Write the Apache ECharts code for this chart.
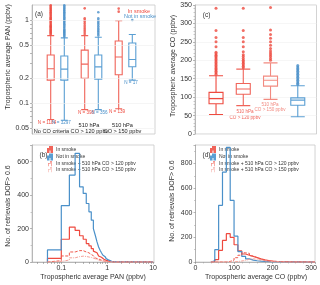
<!DOCTYPE html>
<html><head><meta charset="utf-8">
<script src="https://cdn.jsdelivr.net/npm/echarts@6/dist/echarts.min.js"></script>
<style>html,body{margin:0;padding:0;background:#fff}#c{width:320px;height:285px}</style>
</head><body><div id="c"></div>
<script>
// ---------------- data ----------------
const panGroups = ['No CO criteria', '510 hPa CO > 120 ppbv', '510 hPa CO > 150 ppbv'];
// [low whisker, Q1, median, Q3, high whisker] in ppbv
const panSmokeBoxes = [[0.064, 0.19, 0.26, 0.38, 0.65], [0.084, 0.20, 0.295, 0.435, 0.65], [0.086, 0.22, 0.36, 0.56, 0.98]];
const panClearBoxes = [[0.0625, 0.19, 0.257, 0.37, 0.61], [0.084, 0.195, 0.274, 0.38, 0.62], [0.19, 0.275, 0.335, 0.53, 0.67]];
const panSmokeOutliers = [
  [0.67, 0.69, 0.71, 0.73, 0.75, 0.77, 0.79, 0.81, 0.83, 0.85, 0.87, 0.9, 0.93, 0.96, 0.99, 1.02, 1.05, 1.08, 1.12, 1.16, 1.2, 1.24, 1.28, 1.32, 1.36, 1.4, 1.45, 1.5],
  [0.68, 0.72, 0.76, 0.8, 0.85, 0.9, 0.95, 1.0, 1.05, 1.38],
  [1.26, 1.37]
];
const panClearOutliers = [
  [0.63, 0.65, 0.67, 0.69, 0.71, 0.73, 0.75, 0.77, 0.8, 0.83, 0.86, 0.89, 0.92, 0.95, 0.98, 1.01, 1.04, 1.08, 1.12, 1.16, 1.2, 1.24, 1.28, 1.32, 1.36, 1.4, 1.45, 1.5],
  [0.65, 0.68, 0.71, 0.74, 0.77, 0.8, 0.84, 0.88, 0.92, 0.96, 1.0, 1.05, 1.24],
  [1.0]
];
const panSmokeN = ['N = 1184', 'N = 398', 'N = 139'];
const panClearN = ['N = 3297', 'N = 356', 'N = 17'];
const panTickValues = [0.05, 0.1, 0.2, 0.5, 1];
const panMinorTicks = [0.05, 0.06, 0.07, 0.08, 0.09, 0.1, 0.2, 0.3, 0.4, 0.5, 0.6, 0.7, 0.8, 0.9, 1];

const coCats = ['In smoke', '510 hPa CO > 120 ppbv', '510 hPa CO > 150 ppbv', 'Not in smoke'];
const coBoxes = [[53, 82, 96, 113, 158], [77, 108, 122, 137, 176], [94, 130, 146, 157, 193], [47, 78, 92, 98, 131]];
const coOutliers = [
  [162, 166, 170, 174, 178, 182, 186, 190, 194, 198, 202, 206, 210, 214, 218, 222, 237, 250, 262, 281, 341],
  [180, 184, 188, 192, 196, 200, 205, 210, 215, 223, 237, 250, 262, 281, 341],
  [200, 205, 210, 215, 220, 225, 232, 241, 250, 260, 270, 282, 343],
  [134, 138, 142, 146, 150, 154, 158, 162, 166, 170, 174, 178, 182, 186]
];

const histNames = ['In smoke', 'Not in smoke', 'In smoke + 510 hPa CO > 120 ppbv', 'In smoke + 510 hPa CO > 150 ppbv'];
const panBinEdges = [0.05, 0.10, 0.15, 0.20, 0.25, 0.30, 0.35, 0.40, 0.45, 0.50, 0.55, 0.60, 0.65, 0.70, 0.75, 0.80, 0.85, 0.90, 0.95, 1.00, 1.05, 1.10, 1.15, 1.20, 1.25, 1.30, 1.35, 1.40, 1.45, 1.50];
const panHistSmoke = [22, 136, 209, 189, 157, 136, 110, 96, 80, 65, 55, 45, 36, 28, 22, 17, 13, 10, 8, 6, 5, 4, 3, 2, 2, 1, 1, 0, 0];
const panHistClear = [72, 337, 520, 650, 450, 410, 350, 300, 250, 200, 160, 120, 90, 70, 55, 42, 32, 25, 20, 15, 11, 8, 6, 4, 3, 2, 2, 1, 0];
const panHistCO120 = [8, 36, 60, 68, 68, 60, 55, 45, 38, 30, 24, 18, 14, 11, 8, 6, 5, 4, 3, 2, 2, 1, 1, 0, 0, 0, 0, 0, 0];
const panHistCO150 = [3, 12, 25, 32, 35, 33, 30, 27, 23, 19, 15, 12, 9, 7, 5, 4, 3, 2, 2, 1, 1, 1, 0, 0, 0, 0, 0, 0, 0];
const panHistEnd = 10;
const panXTickLabels = [0.1, 1, 10];
const panXMinorTicks = [0.03, 0.04, 0.05, 0.06, 0.07, 0.08, 0.09, 0.1, 0.2, 0.3, 0.4, 0.5, 0.6, 0.7, 0.8, 0.9, 1, 2, 3, 4, 5, 6, 7, 8, 9, 10];

const coBinEdges = [40, 50, 60, 70, 80, 90, 100, 110, 120, 130, 140, 150, 160, 170, 180, 190, 200, 210, 220, 230, 240, 250, 260, 270, 280, 290, 300];
const coHistSmoke = [3, 20, 95, 175, 230, 200, 140, 90, 65, 55, 45, 35, 25, 17, 11, 7, 5, 4, 3, 2, 2, 1, 1, 1, 0, 0];
const coHistClear = [10, 100, 460, 730, 930, 500, 210, 85, 45, 25, 15, 10, 7, 5, 3, 1, 0, 0, 0, 0, 0, 0, 0, 0, 0, 0];
const coHistCO120 = [0, 0, 0, 0, 5, 15, 35, 55, 75, 70, 50, 35, 22, 14, 9, 6, 3, 2, 1, 1, 0, 0, 0, 0, 0, 0];
const coHistCO150 = [0, 0, 0, 0, 0, 0, 4, 8, 14, 22, 26, 22, 16, 10, 7, 4, 3, 2, 1, 0, 0, 0, 0, 0, 0, 0];
const coHistEnd = 310;

// ---------------- styling ----------------
const FONT = 'Liberation Sans, Arial, sans-serif';
const RED = '#ee4a3f', RED_BOX = '#f0645a', RED2 = '#ef5a4e', PINK = '#f3a199';
const BLUE = '#4a90c9', BLUE_BOX = '#5b9fd3';
const L = Math.log10;
const panLo = -1.3685, panHi = 0.18;
const fmtLog = v => String(Number(Math.pow(10, v).toPrecision(2)));

function stepData(edges, counts, endX, tx) {
  const t = tx || (x => x);
  const pts = [[t(edges[0]), 0], [t(edges[0]), counts[0]]];
  for (let i = 1; i < counts.length; i++) pts.push([t(edges[i]), counts[i]]);
  pts.push([t(edges[counts.length]), 0]);
  pts.push([t(endX), 0]);
  return pts;
}

const hidden = {show: false};
const axisLabelStyle = {fontSize: 7, color: '#333', fontFamily: FONT, margin: 3};
const tickStyle = {length: 2, lineStyle: {color: '#888', width: 0.6}};
const axLine = {show: true, onZero: false, lineStyle: {color: '#aaa', width: 0.8}};
const gridStyle = {show: true, borderColor: '#c8c8c8', borderWidth: 0.8, backgroundColor: 'transparent'};

const grids = [
  Object.assign({left: 32, top: 5, width: 123, height: 129}, gridStyle),   // 0 a frame
  {left: 33.7, top: 5, width: 102, height: 129},                           // 1 a red boxes
  {left: 47.3, top: 5, width: 102, height: 129},                           // 2 a blue boxes
  Object.assign({left: 195, top: 5, width: 121.5, height: 129}, gridStyle), // 3 c frame
  {left: 202.4, top: 5, width: 109, height: 129},                          // 4 c boxes
  Object.assign({left: 32, top: 145, width: 122, height: 117}, gridStyle), // 5 b
  Object.assign({left: 195.5, top: 145, width: 121, height: 117}, gridStyle) // 6 d
];

const xAxes = [
  {gridIndex: 0, type: 'value', min: 0, max: 1, show: false},
  {gridIndex: 1, type: 'category', data: panGroups, show: false},
  {gridIndex: 2, type: 'category', data: panGroups, show: false},
  {gridIndex: 3, type: 'value', min: 0, max: 1, show: false},
  {gridIndex: 4, type: 'category', data: coCats, show: false},
  {gridIndex: 5, type: 'value', min: L(0.023), max: 1.02,
    axisLine: axLine,
    axisTick: Object.assign({customValues: panXMinorTicks.map(L)}, tickStyle),
    axisLabel: Object.assign({customValues: panXTickLabels.map(L), formatter: fmtLog}, axisLabelStyle),
    splitLine: hidden},
  {gridIndex: 6, type: 'value', min: 0, max: coHistEnd, interval: 100,
    axisLine: axLine,
    axisTick: tickStyle, minorTick: {show: true, splitNumber: 5, length: 1.5, lineStyle: {color: '#999', width: 0.5}},
    axisLabel: Object.assign({showMaxLabel: false}, axisLabelStyle),
    splitLine: hidden}
];

const yAxes = [
  {gridIndex: 0, type: 'value', min: panLo, max: panHi,
    axisLine: axLine,
    axisTick: Object.assign({show: true, customValues: panMinorTicks.map(L)}, tickStyle),
    axisLabel: Object.assign({customValues: panTickValues.map(L), formatter: fmtLog}, axisLabelStyle),
    splitLine: hidden},
  {gridIndex: 1, type: 'value', min: panLo, max: panHi, show: false},
  {gridIndex: 2, type: 'value', min: panLo, max: panHi, show: false},
  {gridIndex: 3, type: 'value', min: 0, max: 350, interval: 50,
    axisLine: axLine,
    axisTick: Object.assign({show: true}, tickStyle),
    minorTick: {show: true, splitNumber: 5, length: 1.5, lineStyle: {color: '#999', width: 0.5}},
    axisLabel: axisLabelStyle,
    splitLine: {show: true, lineStyle: {color: '#f0f0f0', width: 0.6}}},
  {gridIndex: 4, type: 'value', min: 0, max: 350, show: false},
  {gridIndex: 5, type: 'value', min: 0, max: 700, interval: 200,
    axisLine: axLine,
    axisTick: Object.assign({show: true}, tickStyle),
    minorTick: {show: true, splitNumber: 2, length: 1.5, lineStyle: {color: '#999', width: 0.5}},
    axisLabel: Object.assign({showMaxLabel: false}, axisLabelStyle),
    splitLine: hidden},
  {gridIndex: 6, type: 'value', min: 0, max: 950, interval: 200,
    axisLine: axLine,
    axisTick: Object.assign({show: true}, tickStyle),
    minorTick: {show: true, splitNumber: 2, length: 1.5, lineStyle: {color: '#999', width: 0.5}},
    axisLabel: Object.assign({showMaxLabel: false}, axisLabelStyle),
    splitLine: hidden}
];

const series = [];
// gridlines for log axis of (a)
series.push({type: 'line', xAxisIndex: 0, yAxisIndex: 0, data: [[0, panLo]], symbol: 'none', silent: true,
  lineStyle: {width: 0},
  markLine: {silent: true, symbol: 'none', label: {show: false}, animation: false,
    lineStyle: {color: '#eeeeee', width: 0.6, type: 'solid'},
    data: panTickValues.map(v => ({yAxis: L(v)}))}});

function outlierPts(lists) {
  const pts = [];
  lists.forEach((arr, i) => arr.forEach(v => pts.push([i, L(v)])));
  return pts;
}
series.push({type: 'boxplot', name: 'In smoke', xAxisIndex: 1, yAxisIndex: 1, boxWidth: [7, 7],
  data: panSmokeBoxes.map(b => b.map(L)),
  itemStyle: {color: 'rgba(255,255,255,0)', borderColor: RED_BOX, borderWidth: 1.1}});
series.push({type: 'scatter', xAxisIndex: 1, yAxisIndex: 1, symbolSize: 2.6, data: outlierPts(panSmokeOutliers),
  itemStyle: {color: RED}});
series.push({type: 'boxplot', name: 'Not in smoke', xAxisIndex: 2, yAxisIndex: 2, boxWidth: [7, 7],
  data: panClearBoxes.map(b => b.map(L)),
  itemStyle: {color: 'rgba(255,255,255,0)', borderColor: BLUE_BOX, borderWidth: 1.1}});
series.push({type: 'scatter', xAxisIndex: 2, yAxisIndex: 2, symbolSize: 2.6, data: outlierPts(panClearOutliers),
  itemStyle: {color: BLUE}});

// (c)
const coBoxColors = [RED, RED_BOX, '#f28a80', BLUE_BOX];
const coDotColors = [RED, RED, RED, BLUE];
series.push({type: 'boxplot', xAxisIndex: 4, yAxisIndex: 4, boxWidth: [14, 14],
  data: coBoxes.map((b, i) => ({value: b, itemStyle: {color: 'rgba(255,255,255,0)', borderColor: coBoxColors[i], borderWidth: 1.1}}))});
const coPts = [];
coOutliers.forEach((arr, i) => arr.forEach(v => coPts.push({value: [i, v], itemStyle: {color: coDotColors[i]}})));
series.push({type: 'scatter', xAxisIndex: 4, yAxisIndex: 4, symbolSize: 3, data: coPts});

// (b) and (d) histograms
const histStyles = [
  {color: RED, width: 1.2, type: 'solid'},
  {color: BLUE, width: 1.2, type: 'solid'},
  {color: RED2, width: 1.0, type: [3, 1.5]},
  {color: PINK, width: 1.0, type: [3, 1, 1, 1]}
];
const panHists = [panHistSmoke, panHistClear, panHistCO120, panHistCO150];
const coHists = [coHistSmoke, coHistClear, coHistCO120, coHistCO150];
const drawOrder = [1, 0, 2, 3];
drawOrder.forEach(k => {
  series.push({type: 'line', name: histNames[k], xAxisIndex: 5, yAxisIndex: 5, step: 'end', symbol: 'none',
    data: stepData(panBinEdges, panHists[k], panHistEnd, L), lineStyle: histStyles[k], itemStyle: {color: histStyles[k].color}, z: 3 + k});
  series.push({type: 'line', name: histNames[k], xAxisIndex: 6, yAxisIndex: 6, step: 'end', symbol: 'none',
    data: stepData(coBinEdges, coHists[k], coHistEnd), lineStyle: histStyles[k], itemStyle: {color: histStyles[k].color}, z: 3 + k});
});

const stepIcon = 'path://M0,10 L0,4 L4,4 L4,0 L8,0 L8,10 L7,10 L7,1 L5,1 L5,5 L1,5 L1,10 Z';
function legendAt(left) {
  return {left: left, top: 146, orient: 'vertical', itemGap: 0.5, itemWidth: 6, itemHeight: 5, padding: 0,
    icon: stepIcon, selectedMode: false,
    textStyle: {fontSize: 5, color: '#333', fontFamily: FONT, padding: [0, 0, 0, -2], lineHeight: 5.5},
    data: histNames};
}

function txt(x, y, text, opts) {
  return {type: 'text', x: x, y: y, silent: true, rotation: (opts && opts.rot) || 0,
    style: Object.assign({text: text, fontSize: 7, fill: '#333', fontFamily: FONT, align: 'center', verticalAlign: 'middle'}, opts && opts.style)};
}
const small = c => ({style: {fontSize: 4.6, fill: c}});
const graphics = [
  txt(8, 57, 'Tropospheric average PAN (ppbv)', {rot: Math.PI / 2}),
  txt(173, 66, 'Tropospheric average CO (ppbv)', {rot: Math.PI / 2}),
  txt(8, 206, 'No. of retrievals DOF> 0.6', {rot: Math.PI / 2}),
  txt(172, 201, 'No. of retrievals DOF> 0.6', {rot: Math.PI / 2}),
  txt(93, 277, 'Tropospheric average PAN (ppbv)'),
  txt(256, 277, 'Tropospheric average CO (ppbv)'),
  txt(39, 14, '(a)', {style: {fontSize: 6.5}}),
  txt(206.5, 15, '(c)', {style: {fontSize: 6.5}}),
  txt(43.5, 155, '(b)', {style: {fontSize: 6.5}}),
  txt(206.5, 155, '(d)', {style: {fontSize: 6.5}}),
  txt(139, 11.5, 'In smoke', {style: {fontSize: 5.5, fill: RED}}),
  txt(140, 16.5, 'Not in smoke', {style: {fontSize: 5.5, fill: BLUE}}),
  txt(51.5, 131, 'No CO criteria', {style: {fontSize: 5.6, fill: '#222'}}),
  txt(89, 125, '510 hPa', {style: {fontSize: 5.6, fill: '#222'}}),
  txt(89.5, 131, 'CO > 120 ppbv', {style: {fontSize: 5.6, fill: '#222'}}),
  txt(122.5, 125, '510 hPa', {style: {fontSize: 5.6, fill: '#222'}}),
  txt(122.5, 131, 'CO > 150 ppbv', {style: {fontSize: 5.6, fill: '#222'}}),
  txt(47, 122.7, panSmokeN[0], small(RED)),
  txt(61.5, 122.7, panClearN[0], small(BLUE)),
  txt(86, 112.7, panSmokeN[1], small(RED)),
  txt(99.5, 112.7, panClearN[1], small(BLUE)),
  txt(117, 111.7, panSmokeN[2], small(RED)),
  txt(131, 82.7, panClearN[2], small(BLUE)),
  txt(245, 112, '510 hPa', small(RED_BOX)),
  txt(245, 117.5, 'CO > 120 ppbv', small(RED_BOX)),
  txt(270, 104.5, '510 hPa', small('#f28a80')),
  txt(270, 110, 'CO > 150 ppbv', small('#f28a80'))
];

const chart = echarts.init(document.getElementById('c'), null, {renderer: 'canvas'});
chart.setOption({
  animation: false,
  backgroundColor: '#fff',
  textStyle: {fontFamily: FONT},
  grid: grids,
  xAxis: xAxes,
  yAxis: yAxes,
  legend: [legendAt(47), legendAt(210)],
  series: series,
  graphic: graphics
});
</script></body></html>
